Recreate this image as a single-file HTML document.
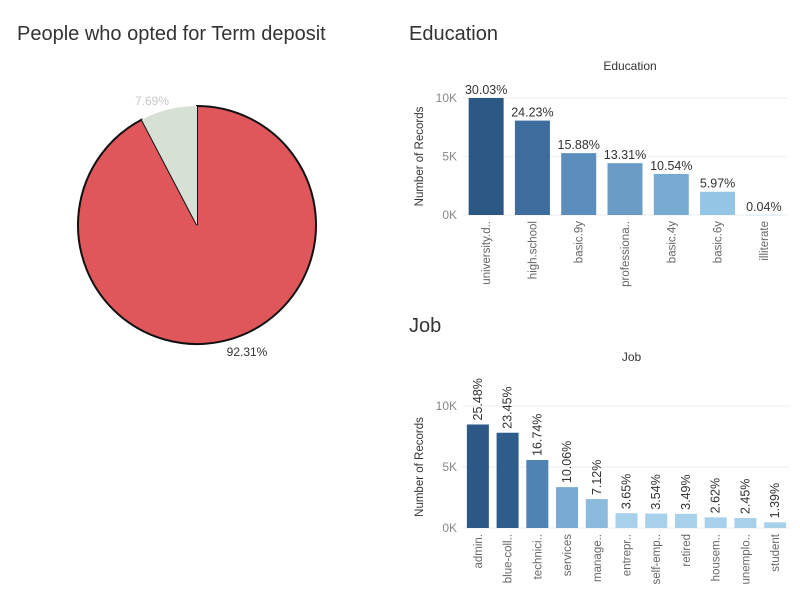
<!DOCTYPE html>
<html><head><meta charset="utf-8"><style>
body{margin:0;background:#fff;font-family:"Liberation Sans","DejaVu Sans",sans-serif;}
svg text{font-family:"Liberation Sans","DejaVu Sans",sans-serif;}
</style></head><body>
<svg id="s" width="800" height="600">
<text x="17" y="40" font-size="20" fill="#333">People who opted for Term deposit</text>
<text x="409" y="40" font-size="20" fill="#333">Education</text>
<text x="409" y="332" font-size="20" fill="#333">Job</text>
<g id="pie"></g>
<g id="edu"></g>
<g id="job"></g>
</svg>
<script>
const pieLabels=["no","yes"];
const pieValues=[92.31,7.69];
const eduCats=["university.d..","high.school","basic.9y","professiona..","basic.4y","basic.6y","illiterate"];
const eduPct=[30.03,24.23,15.88,13.31,10.54,5.97,0.04];
const eduVals=[10000,8069,5288,4432,3510,1988,13];
const jobCats=["admin.","blue-coll..","technici..","services","manage..","entrepr..","self-emp..","retired","housem..","unemplo..","student"];
const jobPct=[25.48,23.45,16.74,10.06,7.12,3.65,3.54,3.49,2.62,2.45,1.39];
const jobVals=[8485,7809,5574,3350,2371,1215,1179,1162,872,816,463];
const yTicks=[0,5000,10000];
const yTickLabels=["0K","5K","10K"];
const NS="http://www.w3.org/2000/svg";
function mk(p,t,a,txt){const e=document.createElementNS(NS,t);for(const k in a)e.setAttribute(k,a[k]);if(txt!==undefined)e.textContent=txt;p.appendChild(e);return e;}
(function(){
const g=document.getElementById('pie');const cx=197,cy=225,r=119;
const tot=pieValues.reduce((a,b)=>a+b,0);
const cols=["#e0575b","#d6e0d4"];
let start=0;
pieValues.forEach((v,i)=>{
 const a0=start/tot*2*Math.PI,a1=(start+v)/tot*2*Math.PI;start+=v;
 const x0=cx+r*Math.sin(a0),y0=cy-r*Math.cos(a0),x1=cx+r*Math.sin(a1),y1=cy-r*Math.cos(a1);
 const large=(a1-a0)>Math.PI?1:0;
 const p=mk(g,'path',{d:`M${cx},${cy}L${x0},${y0}A${r},${r} 0 ${large} 1 ${x1},${y1}Z`,fill:cols[i],stroke:i==0?"#111":"none","stroke-width":2});
 
 
});
const t1=mk(g,'text',{x:247,y:356,"font-size":12,fill:"#333","text-anchor":"middle"},"92.31%");


const t2=mk(g,'text',{x:152,y:105,"font-size":12,fill:"#c8c8c8","text-anchor":"middle"},"7.69%");


})();
function bars(id,cats,vals,pct,cols,o){
 const g=document.getElementById(id);
 const y=v=>o.y0-(v/10000)*(o.y0-o.y10);
 mk(g,'text',{x:(o.left+o.right)/2+5,y:o.titleY,"font-size":12,fill:"#333","text-anchor":"middle"},o.title);
 yTicks.forEach((t,i)=>{
  const l=mk(g,'line',{x1:o.left,x2:o.right,y1:y(t),y2:y(t),stroke:"#eee"});
  
  
  const tx=mk(g,'text',{x:o.left-6,y:y(t)+4,"font-size":12,fill:"#888","text-anchor":"end"},yTickLabels[i]);
  
  
 });
 const at=mk(g,'text',{transform:`translate(${o.left-40},${(o.y0+o.y10)/2}) rotate(-90)`,"font-size":11.5,fill:"#333","text-anchor":"middle"},"Number of Records");
 
 
 const step=(o.right-o.left)/cats.length;
 cats.forEach((c,i)=>{
  const bx=o.left+step*i+(step-o.bw)/2,cxm=bx+o.bw/2;
  const b=mk(g,'rect',{x:bx,y:y(vals[i]),width:o.bw,height:Math.max(o.y0-y(vals[i]),0.5),fill:cols[i]});
  
  
  let lab;
  if(o.rot){lab=mk(g,'text',{transform:`translate(${cxm+4},${y(vals[i])-4}) rotate(-90)`,"font-size":12.5,fill:"#333"},pct[i].toFixed(2)+"%");}
  else{lab=mk(g,'text',{x:cxm,y:y(vals[i])-4,"font-size":12.5,fill:"#333","text-anchor":"middle"},pct[i].toFixed(2)+"%");}
  
  
  const xl=mk(g,'text',{transform:`translate(${cxm+4},${o.y0+6}) rotate(-90)`,"font-size":11.5,fill:"#666","text-anchor":"end"},c);
  
  
 });
}
bars('edu',eduCats,eduVals,eduPct,["#2c5885","#3e6d9d","#5b8dbd","#6a9cc6","#78abd2","#95c5e4","#b5d8ee"],{left:463,right:787,y0:215,y10:98,bw:35,title:"Education",titleY:70,rot:false});
bars('job',jobCats,jobVals,jobPct,["#2c5885","#2f5d8b","#4f83b3","#78aad3","#8bbadd","#a7d0ea","#a7d0ea","#a7d0ea","#a7d0ea","#a7d0ea","#a7d0ea"],{left:463,right:790,y0:528,y10:406,bw:22,title:"Job",titleY:361,rot:true});
</script>
</body></html>
